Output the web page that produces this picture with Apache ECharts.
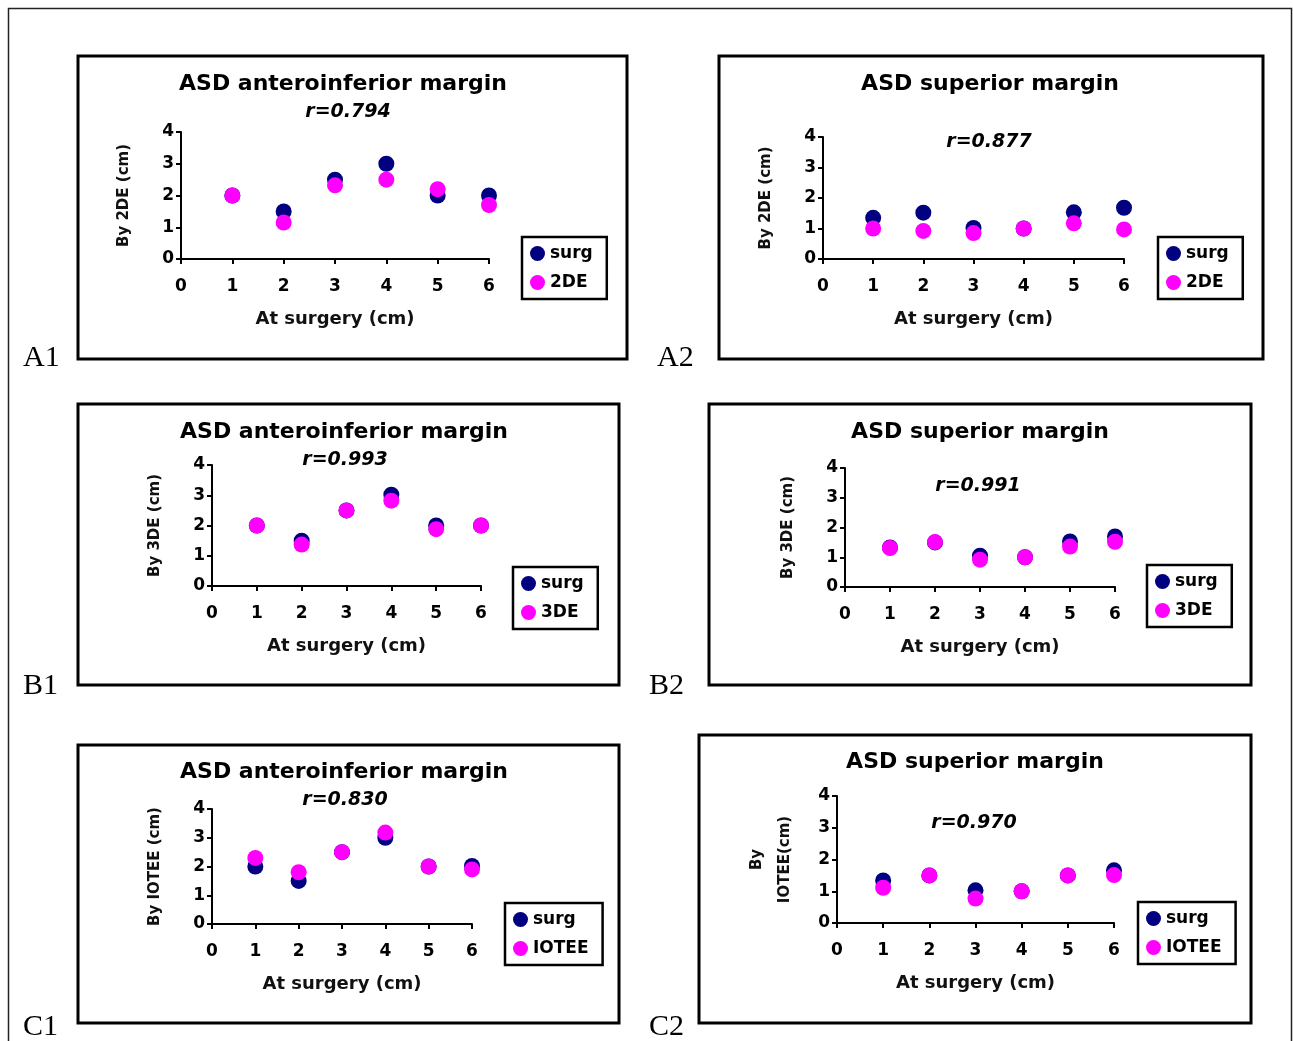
<!DOCTYPE html>
<html>
<head>
<meta charset="utf-8">
<title>ASD margins</title>
<script src="https://cdn.jsdelivr.net/npm/echarts@6/dist/echarts.min.js"></script>
<style>
html, body { margin: 0; padding: 0; background: #fff; }
#main { width: 1293px; height: 1041px; }
</style>
</head>
<body>
<div id="main"></div>
<script>
// x values: size at surgery (cm)
var sizes = [1, 2, 3, 4, 5, 6];

// A: 2DE
var surgA1 = [2, 1.5, 2.5, 3, 2, 2];
var echoA1 = [2, 1.15, 2.32, 2.5, 2.2, 1.7];
var surgA2 = [1.35, 1.52, 1.02, 1.0, 1.53, 1.68];
var echoA2 = [1.0, 0.92, 0.85, 1.0, 1.17, 0.97];
// B: 3DE
var surgB1 = [2, 1.5, 2.5, 3.02, 2, 2];
var echoB1 = [2, 1.37, 2.5, 2.82, 1.88, 2];
var surgB2 = [1.33, 1.5, 1.05, 1.0, 1.53, 1.7];
var echoB2 = [1.31, 1.51, 0.92, 1.0, 1.36, 1.52];
// C: IOTEE
var surgC1 = [2, 1.5, 2.5, 3, 2, 2.02];
var echoC1 = [2.3, 1.8, 2.5, 3.18, 2, 1.9];
var surgC2 = [1.34, 1.5, 1.03, 1.0, 1.5, 1.66];
var echoC2 = [1.11, 1.5, 0.77, 1.0, 1.5, 1.51];

var SANS = '"DejaVu Sans", "Liberation Sans", sans-serif';
var SERIF = '"Liberation Serif", "DejaVu Serif", serif';

// panel layout: box = [x1,y1,x2,y2], grid = [x0,yTop,x6,y0]
var panels = [
	{label: 'A1', labelPos: [23, 358], box: [78, 56, 627, 359], grid: [181, 132, 489, 259],
		title: 'ASD anteroinferior margin', titlePos: [343, 84], r: 'r=0.794', rPos: [348, 112],
		yName: 'By 2DE (cm)', yGap: 43, echoName: '2DE', surg: surgA1, echo: echoA1, legend: [522, 237]},
	{label: 'A2', labelPos: [657, 358], box: [719, 56, 1263, 359], grid: [823, 137, 1124, 259],
		title: 'ASD superior margin', titlePos: [990, 84], r: 'r=0.877', rPos: [989, 142],
		yName: 'By 2DE (cm)', yGap: 43, echoName: '2DE', surg: surgA2, echo: echoA2, legend: [1158, 237]},
	{label: 'B1', labelPos: [23, 686], box: [78, 404, 619, 685], grid: [212, 465, 481, 586],
		title: 'ASD anteroinferior margin', titlePos: [344, 432], r: 'r=0.993', rPos: [345, 460],
		yName: 'By 3DE (cm)', yGap: 43, echoName: '3DE', surg: surgB1, echo: echoB1, legend: [513, 567]},
	{label: 'B2', labelPos: [649, 686], box: [709, 404, 1251, 685], grid: [845, 468, 1115, 587],
		title: 'ASD superior margin', titlePos: [980, 432], r: 'r=0.991', rPos: [978, 486],
		yName: 'By 3DE (cm)', yGap: 43, echoName: '3DE', surg: surgB2, echo: echoB2, legend: [1147, 565]},
	{label: 'C1', labelPos: [23, 1027], box: [78, 745, 619, 1023], grid: [212, 809, 472, 924],
		title: 'ASD anteroinferior margin', titlePos: [344, 772], r: 'r=0.830', rPos: [345, 800],
		yName: 'By IOTEE (cm)', yGap: 43, echoName: 'IOTEE', surg: surgC1, echo: echoC1, legend: [505, 903]},
	{label: 'C2', labelPos: [649, 1027], box: [699, 735, 1251, 1023], grid: [837, 796, 1114, 923],
		title: 'ASD superior margin', titlePos: [975, 762], r: 'r=0.970', rPos: [974, 823],
		yName: 'By\nIOTEE(cm)', yGap: 38, echoName: 'IOTEE', surg: surgC2, echo: echoC2, legend: [1138, 902]}
];

function toPoints(vals) {
	return sizes.map(function (x, i) { return [x, vals[i]]; });
}

function textEl(text, pos, font, align) {
	return {
		type: 'text',
		style: {
			text: text, x: pos[0], y: pos[1], font: font, fill: '#000',
			align: align || 'center', textAlign: align || 'center',
			verticalAlign: 'middle', textVerticalAlign: 'middle'
		}
	};
}

var grids = [], xAxes = [], yAxes = [], series = [], legends = [], graphics = [];

// outer frame
graphics.push({
	type: 'rect',
	shape: {x: 8.5, y: 8.5, width: 1283, height: 1040},
	style: {fill: 'none', stroke: '#222', lineWidth: 1.5}
});

panels.forEach(function (p, i) {
	var g = p.grid;
	grids.push({left: g[0], top: g[1], width: g[2] - g[0], height: g[3] - g[1], containLabel: false});

	xAxes.push({
		gridIndex: i, type: 'value', min: 0, max: 6, interval: 1,
		name: 'At surgery (cm)', nameLocation: 'middle', nameGap: 51,
		nameTextStyle: {fontFamily: SANS, fontSize: 18, fontWeight: 'bold', color: '#111'},
		axisLine: {lineStyle: {color: '#000', width: 2}},
		axisTick: {length: 5, lineStyle: {color: '#000', width: 2}},
		axisLabel: {margin: 19, fontFamily: SANS, fontSize: 17, fontWeight: 'bold', color: '#000'},
		splitLine: {show: false}
	});

	yAxes.push({
		gridIndex: i, type: 'value', min: 0, max: 4, interval: 1,
		name: p.yName, nameLocation: 'middle', nameGap: p.yGap,
		nameTextStyle: {fontFamily: SANS, fontSize: 15, fontWeight: 'bold', color: '#111', lineHeight: 28},
		axisLine: {show: true, lineStyle: {color: '#000', width: 2}},
		axisTick: {show: true, length: 5, lineStyle: {color: '#000', width: 2}},
		axisLabel: {margin: 7, fontFamily: SANS, fontSize: 17, fontWeight: 'bold', color: '#000'},
		splitLine: {show: false}
	});

	series.push({
		name: 'surg', type: 'scatter', xAxisIndex: i, yAxisIndex: i,
		symbolSize: 16, itemStyle: {color: '#000080', opacity: 1},
		data: toPoints(p.surg)
	});
	series.push({
		name: p.echoName, type: 'scatter', xAxisIndex: i, yAxisIndex: i,
		symbolSize: 16, itemStyle: {color: '#ff00ff', opacity: 1},
		data: toPoints(p.echo)
	});

	legends.push({
		data: ['surg', p.echoName], orient: 'vertical', left: p.legend[0], top: p.legend[1],
		icon: 'circle', itemWidth: 15, itemHeight: 15, itemGap: 12,
		padding: [8, 14, 8, 8], backgroundColor: '#fff',
		borderColor: '#000', borderWidth: 2.5, selectedMode: false,
		textStyle: {fontFamily: SANS, fontSize: 17, fontWeight: 'bold', color: '#000'}
	});

	var b = p.box;
	graphics.push({
		type: 'rect',
		shape: {x: b[0], y: b[1], width: b[2] - b[0], height: b[3] - b[1]},
		style: {fill: 'none', stroke: '#000', lineWidth: 3}
	});
	graphics.push(textEl(p.title, p.titlePos, 'bold 22px ' + SANS));
	graphics.push(textEl(p.r, p.rPos, 'italic bold 19px ' + SANS));
	graphics.push(textEl(p.label, p.labelPos, '30px ' + SERIF, 'left'));
});

var myChart = echarts.init(document.getElementById('main'));
myChart.setOption({
	animation: false,
	backgroundColor: '#fff',
	grid: grids,
	xAxis: xAxes,
	yAxis: yAxes,
	legend: legends,
	series: series,
	graphic: graphics
});
window.onresize = myChart.resize;
</script>
</body>
</html>
